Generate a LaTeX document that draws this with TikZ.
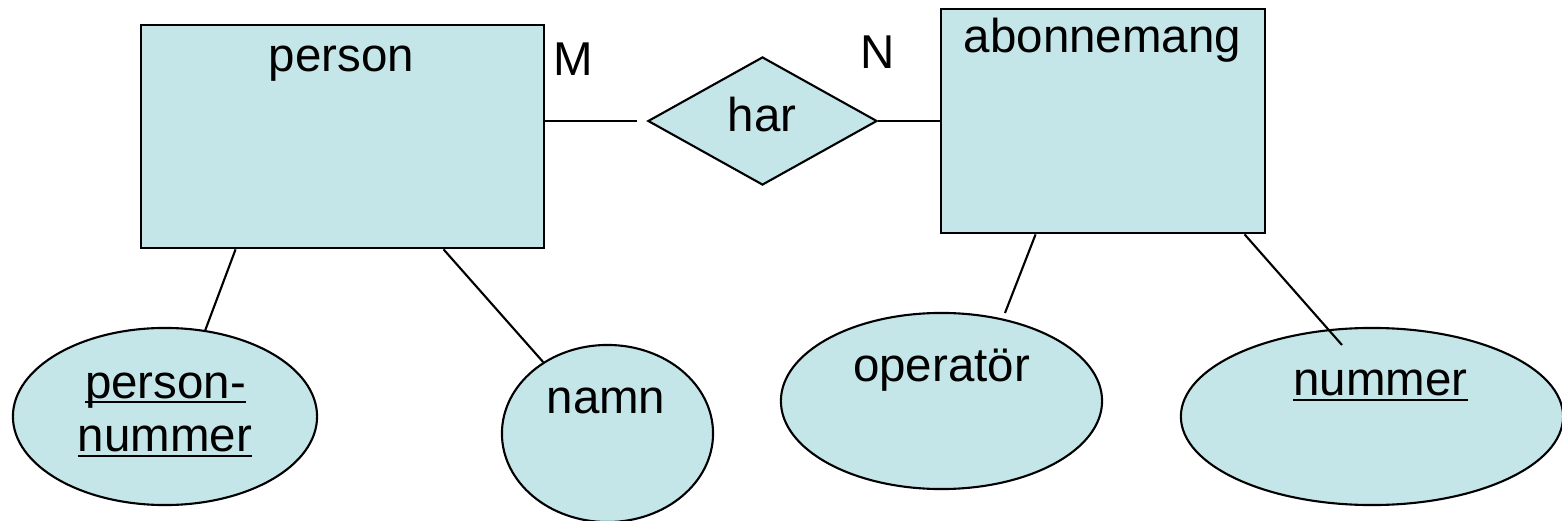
\documentclass[tikz,border=0pt]{standalone}
\usepackage{fontspec}
\setmainfont{Liberation Sans}
\usetikzlibrary{shapes.geometric,calc}
\definecolor{erfill}{RGB}{196,230,233}
% underlined key attribute: rule at a fixed depth, crossing descenders
\newsavebox\keybox
\newcommand{\keyattr}[1]{\sbox\keybox{#1}\rlap{\rule[-1.5pt]{\wd\keybox}{0.6pt}}\usebox\keybox}

\begin{document}
\begin{tikzpicture}[x=0.01cm, y=-0.01cm,
  every node/.style={font=\fontsize{13.5}{16}\selectfont},
  entity/.style={draw, fill=erfill, line width=0.75pt, rectangle, inner sep=0pt},
  relation/.style={draw, fill=erfill, line width=0.6pt, diamond, inner sep=0pt},
  attribute/.style={draw, fill=erfill, line width=0.6pt, ellipse, inner sep=0pt},
  caption/.style={anchor=base, inner sep=0pt},
  link/.style={line width=0.6pt}]

\useasboundingbox (0,0) rectangle (1562,521);

% entities and relationship
\node[entity, minimum width=4.03cm, minimum height=2.23cm] (person) at (342.5,136.5) {};
\node[entity, minimum width=3.24cm, minimum height=2.24cm] (abon) at (1103,121) {};
\node[relation, minimum width=2.29cm, minimum height=1.28cm] (har) at (762.5,121) {};

% attributes
\node[attribute, minimum width=3.04cm, minimum height=1.77cm] (pn) at (165,416.5) {};
\node[attribute, minimum width=2.11cm, minimum height=1.77cm] (namn) at (607.5,433.5) {};
\node[attribute, minimum width=3.21cm, minimum height=1.76cm] (oper) at (941.5,401) {};
\node[attribute, minimum width=3.82cm, minimum height=1.77cm] (num) at (1372,416.5) {};

% labels
\node[caption] (person-t) at (341.5,71) {person};
\node[caption] (abon-t) at (1102.5,53) {abonnemang};
\node[caption] (har-t) at (762,132) {har};
\node[caption] (m-t) at (573.5,76) {M};
\node[caption] (n-t) at (878,68) {N};
\node[caption] (pn-t1) at (165.5,398) {\keyattr{person-}};
\node[caption] (pn-t2) at (165,452) {\keyattr{nummer}};
\node[caption] (namn-t) at (606,413) {namn};
\node[caption] (oper-t) at (941.5,381) {operatör};
\node[caption] (num-t) at (1380.5,396) {\keyattr{nummer}};

% free ends of connectors
\coordinate (m-end) at (637,121);
\coordinate (oper-end) at (1005,313);
\coordinate (num-end) at (1342,345);

% connectors
\draw[link] (person.east |- har.center) -- (m-end);
\draw[link] (har.east) -- (abon.west);
\draw[link] ($(person.south west)+(96,0)$) -- (pn.65);
\draw[link] ($(person.south west)+(304,0)$) -- (namn.132);
\draw[link] ($(abon.south west)+(96,0)$) -- (oper-end);
\draw[link] ($(abon.south west)+(305,0)$) -- (num-end);
\end{tikzpicture}
\end{document}
